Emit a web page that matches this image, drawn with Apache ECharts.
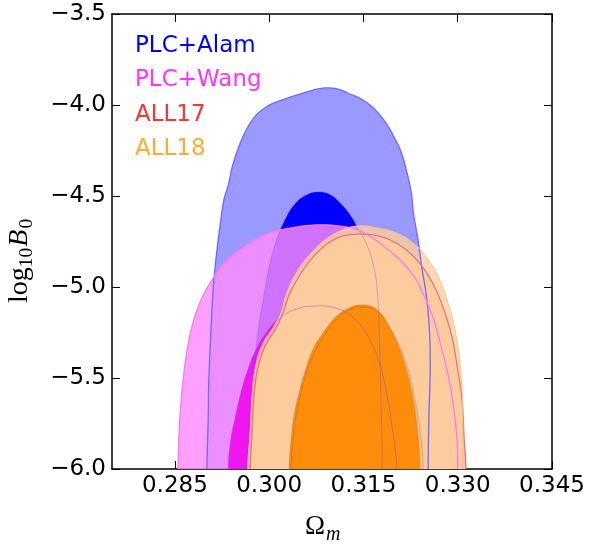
<!DOCTYPE html>
<html><head><meta charset="utf-8">
<script src="https://cdn.jsdelivr.net/npm/echarts@6/dist/echarts.min.js"></script>
<style>html,body{margin:0;padding:0;background:#fff}#c{width:589px;height:548px}</style>
</head><body><div id="c"></div>
<script>
// ---- data (Omega_m, log10 B0) ----
const xTicks = [0.285, 0.300, 0.315, 0.330, 0.345];
const yTicks = [-6.0, -5.5, -5.0, -4.5, -4.0, -3.5];
const legendNames = ['PLC+Alam', 'PLC+Wang', 'ALL17', 'ALL18'];
const legendColors = ['#0000ff', '#ff33ff', '#ff3333', '#ffaa33'];

const alamOuter = [[0.2901,-6.0],[0.2903,-5.731],[0.2904,-5.511],[0.2906,-5.346],[0.2909,-5.126],[0.2912,-4.962],[0.2917,-4.797],[0.2922,-4.659],[0.2928,-4.522],[0.2935,-4.440],[0.2942,-4.330],[0.2954,-4.209],[0.2966,-4.121],[0.2981,-4.049],[0.2998,-4.005],[0.3020,-3.973],[0.3049,-3.940],[0.3070,-3.918],[0.3086,-3.907],[0.3105,-3.909],[0.3125,-3.934],[0.3154,-3.984],[0.3180,-4.071],[0.3197,-4.165],[0.3210,-4.258],[0.3219,-4.368],[0.3226,-4.478],[0.3230,-4.604],[0.3237,-4.742],[0.3243,-4.896],[0.3250,-5.044],[0.3254,-5.181],[0.3256,-5.319],[0.3256,-5.511],[0.3254,-5.731],[0.3253,-6.0]];
const alamInner = [[0.2965,-6.0],[0.2968,-5.786],[0.2973,-5.566],[0.2978,-5.374],[0.2984,-5.209],[0.2992,-5.044],[0.3001,-4.879],[0.3012,-4.742],[0.3025,-4.632],[0.3041,-4.544],[0.3059,-4.495],[0.3076,-4.478],[0.3095,-4.489],[0.3113,-4.538],[0.3129,-4.604],[0.3141,-4.676],[0.3154,-4.758],[0.3165,-4.868],[0.3172,-5.016],[0.3175,-5.236],[0.3178,-5.621],[0.3180,-6.0]];
const wangOuter = [[0.2855,-6.0],[0.2857,-5.786],[0.2860,-5.621],[0.2865,-5.456],[0.2871,-5.319],[0.2880,-5.181],[0.2893,-5.060],[0.2911,-4.951],[0.2933,-4.852],[0.2962,-4.775],[0.2993,-4.714],[0.3033,-4.676],[0.3076,-4.659],[0.3113,-4.665],[0.3145,-4.692],[0.3176,-4.758],[0.3205,-4.841],[0.3229,-4.934],[0.3246,-5.044],[0.3261,-5.170],[0.3273,-5.319],[0.3285,-5.484],[0.3294,-5.676],[0.3299,-5.841],[0.3300,-6.0]];
const wangInner = [[0.2935,-6.0],[0.2939,-5.841],[0.2946,-5.720],[0.2955,-5.582],[0.2966,-5.456],[0.2979,-5.346],[0.2995,-5.253],[0.3017,-5.170],[0.3044,-5.121],[0.3076,-5.104],[0.3105,-5.115],[0.3125,-5.148],[0.3145,-5.209],[0.3162,-5.302],[0.3175,-5.412],[0.3186,-5.566],[0.3195,-5.758],[0.3203,-6.0]];
const all17Outer = [[0.2970,-6.0],[0.2973,-5.786],[0.2976,-5.593],[0.2982,-5.445],[0.2993,-5.330],[0.3011,-5.225],[0.3022,-5.143],[0.3033,-5.033],[0.3051,-4.923],[0.3071,-4.830],[0.3094,-4.758],[0.3116,-4.720],[0.3145,-4.709],[0.3176,-4.720],[0.3205,-4.764],[0.3229,-4.830],[0.3250,-4.918],[0.3267,-5.027],[0.3281,-5.154],[0.3292,-5.291],[0.3300,-5.456],[0.3307,-5.621],[0.3310,-5.813],[0.3313,-6.0]];
const all17Inner = [[0.3035,-6.0],[0.3038,-5.841],[0.3043,-5.703],[0.3051,-5.577],[0.3062,-5.445],[0.3075,-5.341],[0.3089,-5.258],[0.3106,-5.181],[0.3127,-5.126],[0.3150,-5.110],[0.3173,-5.137],[0.3194,-5.236],[0.3210,-5.346],[0.3222,-5.467],[0.3232,-5.621],[0.3240,-5.786],[0.3245,-6.0]];
const all18Outer = [[0.2966,-6.0],[0.2970,-5.786],[0.2973,-5.593],[0.2978,-5.445],[0.2989,-5.319],[0.3008,-5.214],[0.3019,-5.143],[0.3028,-5.033],[0.3046,-4.907],[0.3067,-4.813],[0.3089,-4.742],[0.3113,-4.692],[0.3141,-4.665],[0.3173,-4.676],[0.3202,-4.703],[0.3229,-4.758],[0.3251,-4.841],[0.3269,-4.945],[0.3283,-5.071],[0.3294,-5.209],[0.3302,-5.374],[0.3307,-5.566],[0.3308,-5.786],[0.3307,-6.0]];
const all18Inner = [[0.3032,-6.0],[0.3035,-5.841],[0.3040,-5.703],[0.3048,-5.577],[0.3059,-5.445],[0.3071,-5.335],[0.3086,-5.253],[0.3103,-5.176],[0.3124,-5.121],[0.3148,-5.099],[0.3172,-5.126],[0.3191,-5.220],[0.3205,-5.319],[0.3216,-5.429],[0.3227,-5.582],[0.3235,-5.758],[0.3240,-6.0]];

// ---- rendering ----
const X_MIN = 0.275, X_MAX = 0.345, Y_MIN = -6.0, Y_MAX = -3.5;

function closeBelow(pts) {
  // the contours continue below the plotted range; extend them under the axis
  const a = pts[0], b = pts[pts.length - 1];
  return [[a[0], Y_MIN - 0.5]].concat(pts, [[b[0], Y_MIN - 0.5]]);
}

function contourSeries(pts, style) {
  const full = closeBelow(pts);
  return {
    type: 'custom', coordinateSystem: 'cartesian2d', clip: true, silent: true,
    animation: false,
    data: [pts[0]],
    renderItem: function (params, api) {
      return {
        type: 'polygon',
        shape: { points: full.map(function (p) { return api.coord(p); }), smooth: 0.45 },
        style: style
      };
    }
  };
}

const fills = [
  [alamOuter, { fill: 'rgba(0,0,255,0.4)' }],
  [alamInner, { fill: '#0000ff' }],
  [wangOuter, { fill: 'rgba(255,139,255,0.82)' }],
  [wangInner, { fill: 'rgba(238,17,240,0.96)' }],
  [all17Outer, { fill: 'rgb(255,190,160)' }],
  [all17Inner, { fill: 'rgb(246,150,70)' }],
  [all18Outer, { fill: 'rgba(253,208,158,0.8)' }],
  [all18Inner, { fill: 'rgb(252,140,10)' }]
];
const strokes = [
  [alamOuter, { fill: 'none', stroke: '#6b6bff', lineWidth: 1.3 }],
  [alamInner, { fill: 'none', stroke: 'rgba(90,90,230,0.45)', lineWidth: 0.8 }],
  [wangOuter, { fill: 'none', stroke: '#ff77ee', lineWidth: 1.3 }],
  [wangInner, { fill: 'none', stroke: 'rgba(140,80,210,0.6)', lineWidth: 0.8 }],
  [all17Outer, { fill: 'none', stroke: '#e07878', lineWidth: 1.3 }],
  [all17Inner, { fill: 'none', stroke: 'rgba(160,100,70,0.5)', lineWidth: 0.8 }],
  [all18Outer, { fill: 'none', stroke: '#fdc088', lineWidth: 1 }],
  [all18Inner, { fill: 'none', stroke: 'rgba(200,110,40,0.5)', lineWidth: 0.8 }]
];
const series = fills.concat(strokes).map(function (f) { return contourSeries(f[0], f[1]); });

const minus = function (v) { return (v < 0 ? '\u2212' : '') + Math.abs(v).toFixed(1); };
const tickFont = { fontFamily: 'DejaVu Sans', fontSize: 23, color: '#000' };
const frameLine = { show: true, onZero: false, lineStyle: { color: '#000', width: 1.5 } };
const tick = { show: true, inside: true, length: 8, lineStyle: { color: '#000', width: 1 } };

function xAx(pos, showLabel) {
  return {
    type: 'value', position: pos, min: X_MIN, max: X_MAX,
    axisLine: frameLine,
    axisTick: Object.assign({ customValues: xTicks }, tick),
    axisLabel: Object.assign({ show: showLabel, customValues: xTicks, margin: 6,
      formatter: function (v) { return v.toFixed(3); } }, tickFont),
    splitLine: { show: false }
  };
}
function yAx(pos, showLabel) {
  return {
    type: 'value', position: pos, min: Y_MIN, max: Y_MAX, interval: 0.5,
    axisLine: frameLine,
    axisTick: tick,
    axisLabel: Object.assign({ show: showLabel, margin: 6, formatter: minus }, tickFont),
    splitLine: { show: false }
  };
}

// math-like axis titles built from measured text pieces (baseline at local y = 0)
const mctx = document.createElement('canvas').getContext('2d');
const SERIF = '"Liberation Serif", "DejaVu Serif", serif';
function mathPieces(parts) {
  let x = 0; const out = [];
  parts.forEach(function (p) {
    const font = p.style + p.size + 'px ' + SERIF;
    mctx.font = font;
    out.push({ type: 'text', x: x, y: p.dy - 0.3375 * p.size,
      style: { text: p.t, font: font, fill: '#000', align: 'left', verticalAlign: 'middle' } });
    x += mctx.measureText(p.t).width + (p.gap || 0);
  });
  return { children: out, width: x };
}
const xt = mathPieces([
  { t: '\u03a9', style: '', size: 27, dy: 0, gap: 1 },
  { t: 'm', style: 'italic ', size: 20, dy: 5 }
]);
const yt = mathPieces([
  { t: 'log', style: '', size: 28, dy: 0, gap: 0 },
  { t: '10', style: '', size: 19.5, dy: 4, gap: 1 },
  { t: 'B', style: 'italic ', size: 28, dy: 0, gap: 1 },
  { t: '0', style: '', size: 19.5, dy: 4 }
]);

const graphic = legendNames.map(function (n, i) {
  return { type: 'text', x: 135, y: 46 + 34.4 * i,
    style: { text: n, fill: legendColors[i], font: '23px "DejaVu Sans"', align: 'left', verticalAlign: 'middle' } };
});
graphic.push({ type: 'group', x: 305, y: 536, children: xt.children });
graphic.push({ type: 'group', x: 29, y: 303, rotation: Math.PI / 2, children: yt.children });

const chart = echarts.init(document.getElementById('c'), null, { renderer: 'canvas' });
chart.setOption({
  animation: false,
  backgroundColor: '#fff',
  grid: { left: 112, top: 14, width: 440, height: 455, containLabel: false },
  xAxis: [xAx('bottom', true), xAx('top', false)],
  yAxis: [yAx('left', true), yAx('right', false)],
  series: series,
  graphic: graphic
});
</script>
</body></html>
